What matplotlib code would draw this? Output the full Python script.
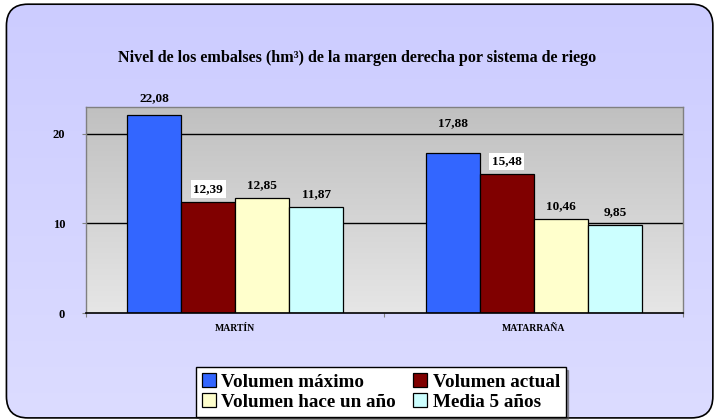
import matplotlib
matplotlib.use("Agg")
import matplotlib.pyplot as plt
import numpy as np
from matplotlib.patches import FancyBboxPatch

plt.rcParams['font.family'] = ['Liberation Serif', 'DejaVu Serif']

categories = ["MARTÍN", "MATARRAÑA"]
series_names = ["Volumen máximo", "Volumen actual", "Volumen hace un año", "Media 5 años"]
vol_maximo = [22.08, 17.88]
vol_actual = [12.39, 15.48]
vol_hace_anio = [12.85, 10.46]
media_5 = [11.87, 9.85]
yticks = [0, 10, 20]

series = [vol_maximo, vol_actual, vol_hace_anio, media_5]
colors = ["#3366ff", "#800000", "#ffffcc", "#ccffff"]

fig = plt.figure(figsize=(7.15, 4.2), dpi=100)

# figure background gradient with rounded border
bg = fig.add_axes([0, 0, 1, 1], zorder=-10)
bg.set_axis_off()
grad = np.linspace(0, 1, 256).reshape(-1, 1)
top = np.array([0xcc, 0xcc, 0xff]) / 255
bot = np.array([0xdc, 0xdc, 0xff]) / 255
img = top[None, None, :] * (1 - grad[:, :, None]) + bot[None, None, :] * grad[:, :, None]
bg.set_xlim(0, 1)
bg.set_ylim(0, 1)
im = bg.imshow(img, extent=[0, 1, 0, 1], aspect='auto', origin='upper')
box = FancyBboxPatch((0.009, 0.005), 0.988, 0.985,
                     boxstyle="round,pad=0,rounding_size=0.03",
                     transform=bg.transAxes, facecolor='none',
                     edgecolor='black', linewidth=1.2, mutation_aspect=715/420)
bg.add_patch(box)
im.set_clip_path(box)

ax = fig.add_axes([86/715, 1 - 313/420, (683 - 86)/715, (313 - 107)/420])
ax.set_xlim(-0.5, 1.5)
ax.set_ylim(0, 23)

# plot area gradient
pg = np.linspace(0, 1, 256).reshape(-1, 1)
ptop = np.array([0xc0, 0xc0, 0xc0]) / 255
pbot = np.array([0xe6, 0xe6, 0xe6]) / 255
pimg = ptop[None, None, :] * (1 - pg[:, :, None]) + pbot[None, None, :] * pg[:, :, None]
ax.imshow(pimg, extent=[-0.5, 1.5, 0, 23], aspect='auto', origin='upper', zorder=0)

for y in yticks[1:]:
    ax.axhline(y, color='black', linewidth=1.0, zorder=1)

x = np.arange(len(categories))
w = 0.181
offsets = [-1.5, -0.5, 0.5, 1.5]
label_offsets = [[8, 17], [5, 5], [5, 5], [5, 5]]
handles = []
for i, (vals, col, name) in enumerate(zip(series, colors, series_names)):
    xs = x + offsets[i] * w
    b = ax.bar(xs, vals, width=w, color=col, edgecolor='black', linewidth=0.9,
               label=name, zorder=2)
    handles.append(b)
    for j, (xx, v) in enumerate(zip(xs, vals)):
        kw = {}
        if i == 1:
            kw['bbox'] = dict(facecolor='white', edgecolor='none', pad=2.0)
        ax.annotate(f"{v:.2f}".replace('.', ','), (xx, v),
                    xytext=(0, label_offsets[i][j]), textcoords='offset points',
                    ha='center', va='bottom', fontsize=9.5, fontweight='bold',
                    zorder=5, **kw)

ax.set_yticks(yticks)
ax.set_yticklabels([str(t) for t in yticks], fontsize=9, fontweight='bold')
ax.tick_params(axis='y', length=3, color='#808080', pad=12)
ax.set_xticks([-0.5, 0.5, 1.5])
ax.set_xticklabels([])
ax.set_xticks(x, minor=True)
ax.set_xticklabels(categories, minor=True, fontsize=7, fontweight='bold')
ax.tick_params(axis='x', which='major', length=3, color='#808080')
ax.tick_params(axis='x', which='minor', length=0, pad=8)

for s in ['top', 'right', 'left']:
    ax.spines[s].set_color('#808080')
    ax.spines[s].set_linewidth(1.0)
ax.spines['bottom'].set_color('black')
ax.spines['bottom'].set_linewidth(1.2)

fig.text(0.5, 1 - 58/420, "Nivel de los embalses (hm³) de la margen derecha por sistema de riego",
         ha='center', va='center', fontsize=11.6, fontweight='bold')

order = [0, 2, 1, 3]
leg = fig.legend([handles[k] for k in order], [series_names[k] for k in order],
                 loc='center', bbox_to_anchor=(381/715, 1 - 392/420), ncol=2,
                 prop={'family': 'Liberation Serif', 'weight': 'bold', 'size': 13.8},
                 frameon=True, fancybox=False, shadow=True, handlelength=0.7,
                 handleheight=0.7, handletextpad=0.3, columnspacing=0.9,
                 borderpad=0.3, labelspacing=0.15, borderaxespad=0)
leg.get_frame().set_edgecolor('black')
leg.get_frame().set_linewidth(1.0)

fig.savefig("out.png", dpi=100)
